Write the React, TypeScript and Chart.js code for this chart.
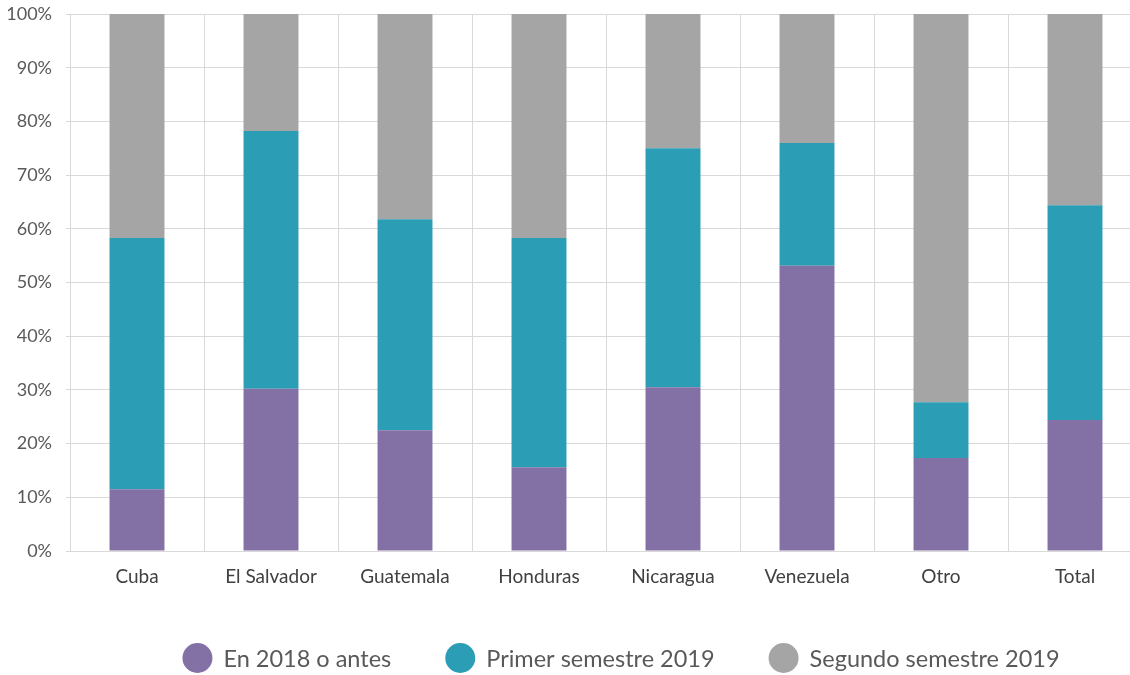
import React, { useEffect, useRef } from "react";
import { Chart, registerables } from "chart.js";

Chart.register(...registerables);

const categories = ["Cuba", "El Salvador", "Guatemala", "Honduras", "Nicaragua", "Venezuela", "Otro", "Total"];
const en2018 = [11.5, 30.2, 22.5, 15.6, 30.5, 53.1, 17.3, 24.4];
const primer2019 = [46.8, 48.0, 39.3, 42.7, 44.5, 22.9, 10.4, 40.0];
const segundo2019 = [41.7, 21.8, 38.2, 41.7, 25.0, 24.0, 72.3, 35.6];
const seriesNames = ["En 2018 o antes", "Primer semestre 2019", "Segundo semestre 2019"];
const seriesColors = ["#8371a5", "#2b9db5", "#a5a5a5"];
const yTicks = [0, 10, 20, 30, 40, 50, 60, 70, 80, 90, 100];

const FONT = "Lato, 'Noto Sans', sans-serif";

const bottomLegend = {
  id: "bottomLegend",
  afterDraw(chart: any) {
    const ctx = chart.ctx;
    const items = chart.data.datasets.map((d: any) => ({ text: d.label, color: d.backgroundColor }));
    const r = 15;
    const gapText = 11;
    const gapItem = 54;
    const centerX = 621;
    const centerY = 658;
    ctx.save();
    ctx.font = `23.5px ${FONT}`;
    const widths = items.map((it: any) => ctx.measureText(it.text).width);
    const total = widths.reduce((a: number, w: number) => a + w + 2 * r + gapText, 0) + gapItem * (items.length - 1);
    let x = centerX - total / 2;
    ctx.textBaseline = "middle";
    ctx.textAlign = "left";
    items.forEach((it: any, i: number) => {
      ctx.fillStyle = it.color;
      ctx.beginPath();
      ctx.arc(x + r, centerY, r, 0, Math.PI * 2);
      ctx.fill();
      ctx.fillStyle = "#595959";
      ctx.fillText(it.text, x + 2 * r + gapText, centerY + 1);
      x += 2 * r + gapText + widths[i] + gapItem;
    });
    ctx.restore();
  },
};

export default function App() {
  const ref = useRef<HTMLCanvasElement | null>(null);
  useEffect(() => {
    if (!ref.current) return;
    const chart = new Chart(ref.current, {
      type: "bar",
      data: {
        labels: categories,
        datasets: [
          { label: seriesNames[0], data: en2018, backgroundColor: seriesColors[0] },
          { label: seriesNames[1], data: primer2019, backgroundColor: seriesColors[1] },
          { label: seriesNames[2], data: segundo2019, backgroundColor: seriesColors[2] },
        ],
      },
      options: {
        animation: false,
        responsive: true,
        maintainAspectRatio: false,
        datasets: { bar: { categoryPercentage: 1, barPercentage: 0.41, borderWidth: 0 } },
        layout: { padding: { top: 14, bottom: 84, left: 0, right: 0 } },
        plugins: {
          tooltip: { enabled: false },
          legend: { display: false },
        },
        scales: {
          x: {
            stacked: true,
            grid: { color: "#d9d9d9", drawTicks: false, offset: true },
            border: { color: "#d9d9d9" },
            ticks: { color: "#404040", font: { family: FONT, size: 19 }, padding: 14 },
            afterFit: (s: any) => { s.height = 40; s.paddingLeft = 0; s.paddingRight = 0; },
          },
          y: {
            stacked: true,
            min: 0,
            max: 100,
            afterBuildTicks: (s: any) => { s.ticks = yTicks.map((v) => ({ value: v })); },
            grid: { color: "#d9d9d9", tickLength: 4 },
            border: { color: "#d9d9d9" },
            ticks: {
              color: "#595959",
              font: { family: FONT, size: 18 },
              padding: 14,
              callback: (v: any) => v + "%",
            },
            afterFit: (s: any) => { s.width = 70; s.paddingTop = 0; s.paddingBottom = 0; },
          },
          y2: {
            position: "right",
            display: true,
            grid: { display: false },
            border: { display: false },
            ticks: { display: false },
            afterFit: (s: any) => { s.width = 100; s.paddingTop = 0; s.paddingBottom = 0; },
          },
        },
      },
      plugins: [bottomLegend],
    });
    return () => chart.destroy();
  }, []);
  return (
    <div style={{ position: "fixed", left: 0, top: 0, width: 1130, height: 675, overflow: "hidden", background: "#fff" }}>
      <div style={{ position: "absolute", left: 0, top: 0, width: 1242, height: 675 }}>
        <canvas ref={ref} />
      </div>
    </div>
  );
}
